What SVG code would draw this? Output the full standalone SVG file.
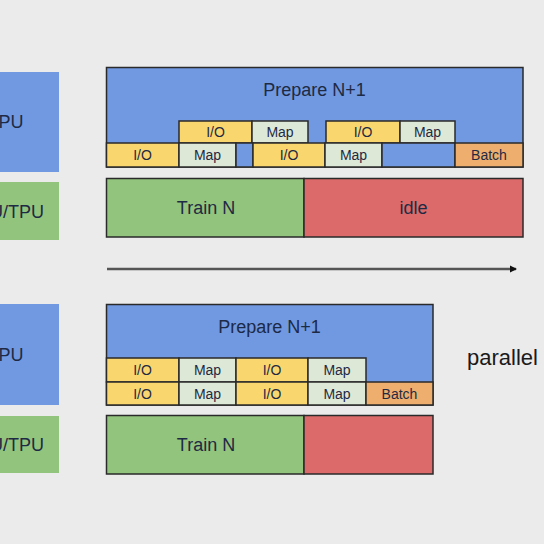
<svg xmlns="http://www.w3.org/2000/svg" width="544" height="544" viewBox="0 0 544 544">
<defs>
<style>
.bg{fill:#ebebeb}
.cpu{fill:#7099e2}
.gpu{fill:#93c47d}
.box{stroke:#2a2a2a;stroke-width:1.5}
.blue{fill:#7099e2}
.io{fill:#fad76e}
.map{fill:#dde8d6}
.batch{fill:#eeae6e}
.train{fill:#93c47d}
.idle{fill:#dc6a6a}
.t{font-family:"Liberation Sans",Arial,sans-serif;fill:#1e2a44;text-anchor:middle}
.lbl{font-size:18px}
.sm{font-size:14px}
.side{font-family:"Liberation Sans",Arial,sans-serif;font-size:18px;fill:#1e2a44;text-anchor:end}
</style>
<marker id="ah" markerWidth="8" markerHeight="8" refX="6" refY="4" orient="auto" markerUnits="userSpaceOnUse">
<path d="M0,0.5 L7,4 L0,7.5 z" fill="#111"/>
</marker>
</defs>
<rect class="bg" x="0" y="0" width="544" height="544"/>

<g id="cpu-top"><rect class="cpu" x="0" y="72" width="59" height="100"/><text class="side" x="23.5" y="128">PU</text></g>
<g id="gpu-top"><rect class="gpu" x="0" y="182" width="59" height="58"/><text class="side" x="44" y="218">U/TPU</text></g>
<g id="cpu-bottom"><rect class="cpu" x="0" y="304" width="59" height="101"/><text class="side" x="23.5" y="361">PU</text></g>
<g id="gpu-bottom"><rect class="gpu" x="0" y="416" width="59" height="57"/><text class="side" x="44" y="451">U/TPU</text></g>

<g id="prepare-top">
<rect class="blue box" x="106.5" y="67.5" width="416.5" height="99.5"/>
<text class="t lbl" x="314.5" y="96">Prepare N+1</text>
<rect class="io box" x="179" y="121" width="73" height="22"/><text class="t sm" x="215.5" y="137">I/O</text>
<rect class="map box" x="252" y="121" width="56" height="22"/><text class="t sm" x="280" y="137">Map</text>
<rect class="io box" x="326" y="121" width="74" height="22"/><text class="t sm" x="363" y="137">I/O</text>
<rect class="map box" x="400" y="121" width="55" height="22"/><text class="t sm" x="427.5" y="137">Map</text>
<rect class="io box" x="106.5" y="143" width="72.5" height="24"/><text class="t sm" x="142.5" y="160">I/O</text>
<rect class="map box" x="179" y="143" width="57" height="24"/><text class="t sm" x="207.5" y="160">Map</text>
<rect class="blue box" x="236" y="143" width="17" height="24"/>
<rect class="io box" x="253" y="143" width="72" height="24"/><text class="t sm" x="289" y="160">I/O</text>
<rect class="map box" x="325" y="143" width="57" height="24"/><text class="t sm" x="353.5" y="160">Map</text>
<rect class="blue box" x="382" y="143" width="73" height="24"/>
<rect class="batch box" x="455" y="143" width="68" height="24"/><text class="t sm" x="489" y="160">Batch</text>
</g>

<g id="train-top">
<rect class="train box" x="106.5" y="178.5" width="197.5" height="58.5"/><text class="t lbl" x="206" y="214">Train N</text>
</g>
<g id="idle-top">
<rect class="idle box" x="304" y="178.5" width="219" height="58.5"/><text class="t lbl" x="413.5" y="214">idle</text>
</g>

<g id="connectors">
<line x1="107" y1="269" x2="516" y2="269" stroke="#555" stroke-width="2.5" marker-end="url(#ah)"/>
</g>

<g id="prepare-bottom">
<rect class="blue box" x="106.5" y="304.5" width="326.5" height="100.5"/>
<text class="t lbl" x="269.5" y="333">Prepare N+1</text>
<rect class="io box" x="106.5" y="358" width="72.5" height="24"/><text class="t sm" x="142.5" y="375">I/O</text>
<rect class="map box" x="179" y="358" width="57" height="24"/><text class="t sm" x="207.5" y="375">Map</text>
<rect class="io box" x="236" y="358" width="72" height="24"/><text class="t sm" x="272" y="375">I/O</text>
<rect class="map box" x="308" y="358" width="58" height="24"/><text class="t sm" x="337" y="375">Map</text>
<rect class="io box" x="106.5" y="382" width="72.5" height="23"/><text class="t sm" x="142.5" y="398.5">I/O</text>
<rect class="map box" x="179" y="382" width="57" height="23"/><text class="t sm" x="207.5" y="398.5">Map</text>
<rect class="io box" x="236" y="382" width="72" height="23"/><text class="t sm" x="272" y="398.5">I/O</text>
<rect class="map box" x="308" y="382" width="58" height="23"/><text class="t sm" x="337" y="398.5">Map</text>
<rect class="batch box" x="366" y="382" width="67" height="23"/><text class="t sm" x="399.5" y="398.5">Batch</text>
</g>

<g id="train-bottom">
<rect class="train box" x="106.5" y="415.5" width="197.5" height="58.5"/><text class="t lbl" x="206" y="451">Train N</text>
</g>
<g id="idle-bottom">
<rect class="idle box" x="304" y="415.5" width="129" height="58.5"/>
</g>

<g id="parallel-label">
<text x="467" y="365" font-family="Liberation Sans, Arial, sans-serif" font-size="22" fill="#1a1a1a">parallel</text>
</g>
</svg>
